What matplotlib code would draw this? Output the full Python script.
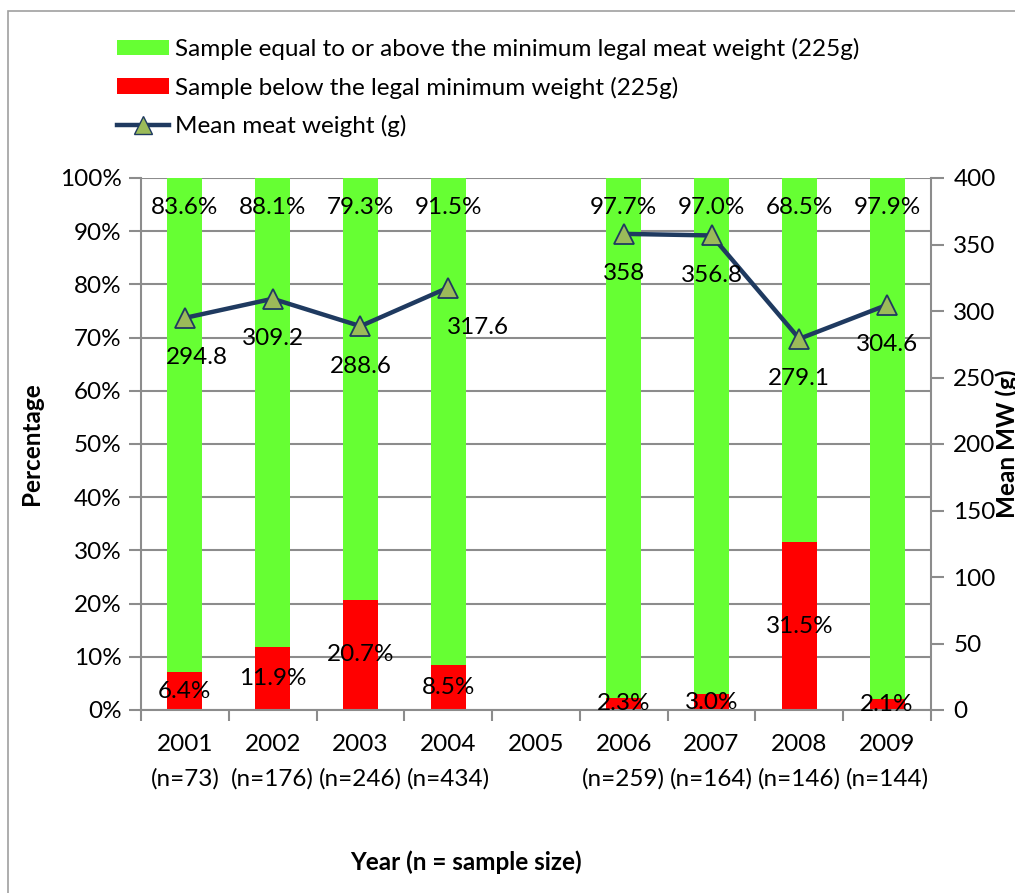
import numpy as np
import matplotlib
matplotlib.use("Agg")
from matplotlib import pyplot as plt
from matplotlib.patches import Rectangle, Patch
from matplotlib.lines import Line2D

years = ['2001', '2002', '2003', '2004', '2005', '2006', '2007', '2008', '2009']
sample_n = [73, 176, 246, 434, None, 259, 164, 146, 144]
above_pct = [83.6, 88.1, 79.3, 91.5, np.nan, 97.7, 97.0, 68.5, 97.9]
below_pct = [6.4, 11.9, 20.7, 8.5, np.nan, 2.3, 3.0, 31.5, 2.1]
mean_mw = [294.8, 309.2, 288.6, 317.6, np.nan, 358, 356.8, 279.1, 304.6]

GREEN = '#66FF33'
RED = '#FF0000'
NAVY = '#1F3A60'
OLIVE = '#9BBB59'
GRID = '#8C8C8C'


def main():
    plt.rcParams['font.family'] = ['Lato', 'DejaVu Sans']
    fs = 17.5

    fig = plt.figure(figsize=(10.15, 8.93), dpi=100)
    ax = fig.add_axes([141 / 1015, 1 - 710 / 893, 790 / 1015, 532 / 893])

    x = np.arange(len(years))
    above = np.array(above_pct)
    below = np.array(below_pct)
    total = above + below
    # 100% stacked: each bar is scaled to its own total
    below_share = np.nan_to_num(below / total * 100)
    above_share = np.nan_to_num(above / total * 100)

    ax.bar(x, below_share, width=0.4, color=RED, zorder=2)
    ax.bar(x, above_share, width=0.4, bottom=below_share, color=GREEN, zorder=2)

    ax.set_xlim(-0.5, len(years) - 0.5)
    ax.set_ylim(0, 100)
    ax.set_yticks(np.arange(0, 101, 10))
    ax.set_yticklabels([f'{v}%' for v in range(0, 101, 10)], fontsize=fs)
    ax.yaxis.grid(True, color=GRID, linewidth=1.5, zorder=0)
    ax.set_axisbelow(True)

    labels = []
    for yr, n in zip(years, sample_n):
        labels.append(yr if n is None else f'{yr}\n(n={n})')
    ax.set_xticks(x)
    ax.set_xticklabels(labels, fontsize=fs, linespacing=1.75, va='top')
    ax.set_xticks(np.arange(-0.5, len(years), 1), minor=True)
    ax.tick_params(axis='x', which='major', length=0, pad=17)
    ax.tick_params(axis='x', which='minor', length=8, width=1.5, color=GRID)
    ax.tick_params(axis='y', length=9, width=1.5, color=GRID, pad=5)

    for side in ['top', 'right']:
        ax.spines[side].set_visible(False)
    for side in ['left', 'bottom']:
        ax.spines[side].set_color(GRID)
        ax.spines[side].set_linewidth(1.5)

    for i in range(len(years)):
        if np.isnan(above[i]):
            continue
        ax.annotate(f'{above[i]:.1f}%', (x[i], 100), xytext=(0, -30),
                    textcoords='offset pixels', ha='center', va='center',
                    fontsize=fs, zorder=5)
        ax.text(x[i], below_share[i] / 2, f'{below[i]:.1f}%', ha='center',
                va='center', fontsize=fs, zorder=5)

    ax.set_ylabel('Percentage', fontsize=fs, fontweight='bold', labelpad=12)

    ax2 = ax.twinx()
    ax2.set_ylim(0, 400)
    ax2.set_yticks(np.arange(0, 401, 50))
    ax2.set_yticklabels([str(v) for v in range(0, 401, 50)], fontsize=fs)
    ax2.tick_params(axis='y', length=9, width=1.5, color=GRID, pad=7)
    for side in ['top', 'left', 'bottom']:
        ax2.spines[side].set_visible(False)
    ax2.spines['right'].set_color(GRID)
    ax2.spines['right'].set_linewidth(1.5)
    ax2.set_ylabel('Mean MW (g)', fontsize=fs, fontweight='bold', rotation=90,
                   labelpad=0)

    ax2.plot(x, mean_mw, color=NAVY, linewidth=3.2, marker='^', markersize=15,
             markerfacecolor=OLIVE, markeredgecolor=NAVY, markeredgewidth=1.3,
             zorder=3)
    label_dx = [12, 0, 0, 30, 0, 0, 0, 0, 0]
    for i, v in enumerate(mean_mw):
        if np.isnan(v):
            continue
        ax2.annotate(f'{v:g}', (x[i], v), xytext=(label_dx[i], -40),
                     textcoords='offset pixels', ha='center', va='center',
                     fontsize=fs, zorder=6)

    fig.text(466 / 1015, 1 - 862 / 893, 'Year (n = sample size)', ha='center',
             va='center', fontsize=fs, fontweight='bold')

    handles = [
        Patch(facecolor=GREEN, edgecolor='none'),
        Patch(facecolor=RED, edgecolor='none'),
        Line2D([0], [0], color=NAVY, linewidth=3.2, marker='^', markersize=13,
               markerfacecolor=OLIVE, markeredgecolor=NAVY),
    ]
    names = ['Sample equal to or above the minimum legal meat weight (225g)',
             'Sample below the legal minimum weight (225g)',
             'Mean meat weight (g)']
    fig.legend(handles, names, loc='upper left',
               bbox_to_anchor=(117 / 1015, 1 - 38 / 893), fontsize=fs,
               frameon=False, handlelength=2.15, handleheight=0.6,
               handletextpad=0.25, labelspacing=0.68, borderaxespad=0,
               borderpad=0)

    # chart area border, partly cut off at right and bottom
    border = Rectangle((8 / 1015, -0.1), 1.2, 1 - 11 / 893 + 0.1,
                       transform=fig.transFigure, fill=False,
                       edgecolor='#A0A0A0', linewidth=1.2)
    fig.patches.append(border)

    plt.savefig('out.png', dpi=100)


if __name__ == "__main__":
    main()
